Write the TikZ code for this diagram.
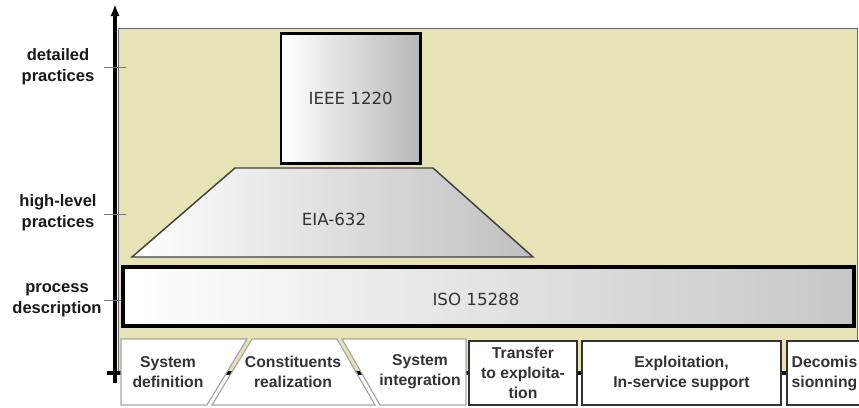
\documentclass[tikz,border=0pt]{standalone}
\usepackage{fontspec}
\setmainfont{Liberation Sans}
\newfontfamily\stdfont{DejaVu Sans}
\usepackage{xcolor}
\definecolor{sebg}{HTML}{E6E4B6}
\definecolor{setext}{HTML}{333333}
\usepackage{tikz}
\usetikzlibrary{arrows.meta,positioning,calc}
\tikzset{
  selevel/.style={align=center,font=\bfseries\fontsize{12.4}{15.5}\selectfont,text=black!90},
  setick/.style={draw=black!55,line width=0.75pt},
  seaxis/.style={line width=2.3pt,black},
  sestd/.style={draw=black,left color=white,right color=black!28,inner sep=0pt},
  sestdtext/.style={font=\stdfont\fontsize{12.5}{15}\selectfont,text=setext},
  sephase/.style={draw=black!35,fill=white,line width=0.9pt},
  sephasetext/.style={align=center,font=\bfseries\fontsize{11.8}{15}\selectfont,text=setext},
  sestep/.style={draw=black!80,line width=1.2pt,fill=white,inner sep=0pt,minimum height=48pt,sephasetext},
}

\begin{document}
\begin{tikzpicture}[x=0.75pt,y=-0.75pt]
\useasboundingbox (0,0) rectangle (859,407);
% background field
\draw[fill=sebg,draw=black!60,line width=0.75pt] (118,28) rectangle (857,373);
% axes
\coordinate (origin) at (115,373);
\coordinate (xend) at (862,373);
\coordinate (ytop) at (115,4);
\draw[seaxis] (107,373) -- (xend);
\draw[seaxis,-{Latex[length=9pt,width=7pt]}] (115,383) -- (ytop);
% levels
\node[selevel] (detailed) at (58,67) {detailed\\practices};
\node[selevel] (highlevel) at (58,213) {high-level\\practices};
\node[selevel] (process) at (57,300) {process\\description};
\draw[setick] (104,67) -- (126,67);
\draw[setick] (104,214) -- (126,214);
\draw[setick] (104,300) -- (126,300);
% standards
\node[sestd,sestdtext,line width=2pt,minimum width=104.6pt,minimum height=97.5pt] (ieee) at (350.75,98.5) {IEEE 1220};
\draw[draw=black!75,line width=1.1pt,left color=white,right color=black!25] (235,168) -- (433,168) -- (533,257) -- (132,257) -- cycle;
\node[sestdtext] (eia) at (334,219) {EIA-632};
\node[sestd,right color=black!22,line width=3pt,minimum width=548.3pt,minimum height=44.6pt] (iso) at (488.5,296.75) {};
\node[sestdtext] (isotext) at (476,299) {ISO 15288};
% life cycle phases
\draw[sephase] (121,339) -- (247,339) -- (207,405) -- (121,405) -- cycle;
\draw[sephase] (252,339) -- (337,339) -- (375,405) -- (212,405) -- cycle;
\draw[sephase] (342,339) -- (466,339) -- (466,405) -- (380,405) -- cycle;
\node[sephasetext] (sysdef) at (168,372) {System\\definition};
\node[sephasetext] (constit) at (293,372) {Constituents\\realization};
\node[sephasetext] (sysint) at (420,372) {System\\integration};
\node[sestep,minimum width=81pt] (transfer) at (523,373) {Transfer\\to exploita-\\tion};
\node[sestep,minimum width=149pt] (exploit) at (681.5,373) {Exploitation,\\In-service support};
\node[sestep,minimum width=56pt] (decom) at (824.5,373) {Decomis\\sionning};
\end{tikzpicture}
\end{document}
